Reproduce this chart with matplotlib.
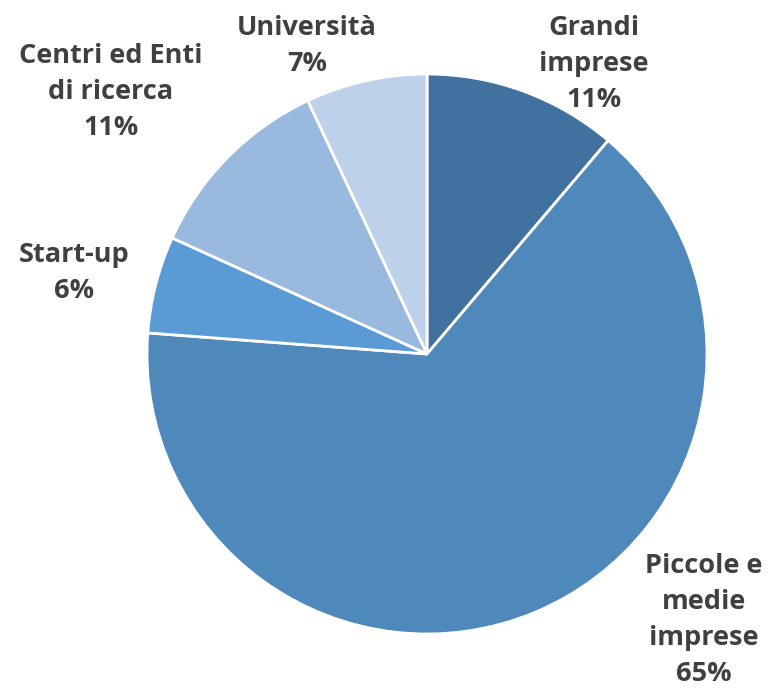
import matplotlib
matplotlib.use("Agg")
import matplotlib.pyplot as plt

categories = ["Grandi\nimprese", "Piccole e\nmedie\nimprese", "Start-up",
              "Centri ed Enti\ndi ricerca", "Università"]
values = [11.2, 65.0, 5.6, 11.2, 7.0]
colors = ["#41729F", "#4F89BB", "#5B9BD5", "#9AB9DF", "#BDD1EB"]

# label centres (data coords, radius = 1)
label_pos = [(0.596, 1.035), (0.989, -0.95), (-1.26, 0.29),
             (-1.13, 0.935), (-0.429, 1.10)]

W, H = 774, 692
fig = plt.figure(figsize=(W / 100, H / 100), dpi=100)
cx, cy, R = 427, 354, 280
ax = fig.add_axes([(cx - R) / W, (H - cy - R) / H, 2 * R / W, 2 * R / H])

total = sum(values)
ax.pie(values, colors=colors, startangle=90, counterclock=False, radius=1,
       wedgeprops=dict(edgecolor="white", linewidth=2.0))
ax.set_xlim(-1, 1)
ax.set_ylim(-1, 1)
ax.axis("off")

for cat, v, (x, y) in zip(categories, values, label_pos):
    pct = round(v / total * 100)
    ax.text(x, y, f"{cat}\n{pct}%", ha="center", va="center",
            fontsize=19.5, fontweight="bold", color="#404040",
            family="Open Sans", linespacing=1.5, clip_on=False)

fig.savefig("out.png", dpi=100)
